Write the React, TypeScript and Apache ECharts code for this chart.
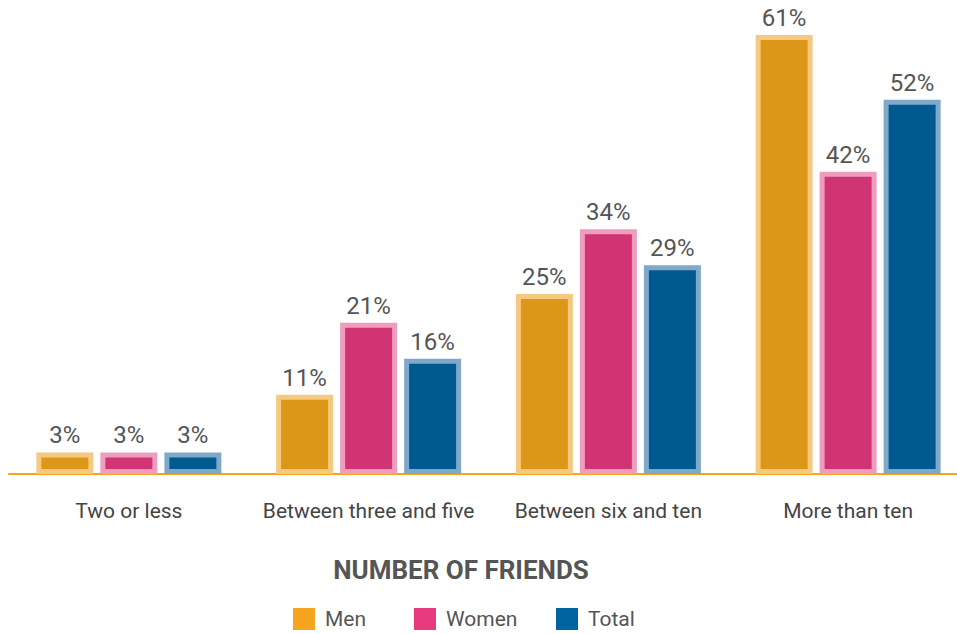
import React, { useEffect, useRef } from "react";
import * as echarts from "echarts";

const categories = ["Two or less", "Between three and five", "Between six and ten", "More than ten"];
const seriesNames = ["Men", "Women", "Total"];
const menValues = [3, 11, 25, 61];
const womenValues = [3, 21, 34, 42];
const totalValues = [3, 16, 29, 52];
const axisTitle = "NUMBER OF FRIENDS";

const barFill = ["#DC9618", "#D13473", "#005A8F"];
const barBorder = ["#F6C980", "#EE9DBE", "#7FA8CB"];
const legendColors = ["#F7A51E", "#E83A7F", "#0064A0"];
const legendLeft = [293, 414, 556];

export default function App() {
  const ref = useRef<HTMLDivElement>(null);
  useEffect(() => {
    if (!ref.current) return;
    const chart = echarts.init(ref.current, undefined, { renderer: "svg" });
    const valueSets = [menValues, womenValues, totalValues];
    chart.setOption({
      animation: false,
      textStyle: { fontFamily: "Roboto" },
      grid: { left: 9, right: 0, top: 35, bottom: 160, containLabel: false },
      xAxis: {
        type: "category",
        data: categories,
        axisLine: { show: true, lineStyle: { color: "#F5A21C", width: 2 } },
        axisTick: { show: false },
        axisLabel: { color: "#444", fontSize: 21, margin: 26, interval: 0, fontFamily: "Roboto" },
      },
      yAxis: {
        type: "value",
        min: 0,
        max: 61,
        show: false,
        splitLine: { show: false },
      },
      legend: seriesNames.map((n, i) => ({
        left: legendLeft[i],
        top: 608,
        padding: 0,
        icon: "rect",
        itemWidth: 22,
        itemHeight: 22,
        selectedMode: false,
        data: [{ name: n, itemStyle: { color: legendColors[i], borderWidth: 0 } }],
        textStyle: { color: "#555", fontSize: 21, fontFamily: "Roboto", padding: [0, 0, 0, 5] },
      })),
      graphic: [
        {
          type: "text",
          x: 461,
          y: 570,
          style: {
            text: axisTitle,
            fill: "#555",
            font: "bold 26px Roboto",
            textAlign: "center",
            textVerticalAlign: "middle",
          },
        },
      ],
      series: seriesNames.map((n, i) => ({
        name: n,
        type: "bar",
        data: valueSets[i],
        barWidth: 57,
        barGap: "12.3%",
        itemStyle: { color: barFill[i], borderColor: barBorder[i], borderWidth: 5 },
        label: {
          show: true,
          position: "top",
          distance: 5,
          formatter: "{c}%",
          color: "#555",
          fontSize: 24,
          fontFamily: "Roboto",
        },
      })),
    });
    return () => chart.dispose();
  }, []);
  return (
    <div style={{ position: "absolute", left: 0, top: 0, width: 957, height: 634, overflow: "hidden", background: "#fff" }}>
      <div ref={ref} style={{ position: "absolute", left: 0, top: 0, width: 968, height: 634 }} />
    </div>
  );
}
